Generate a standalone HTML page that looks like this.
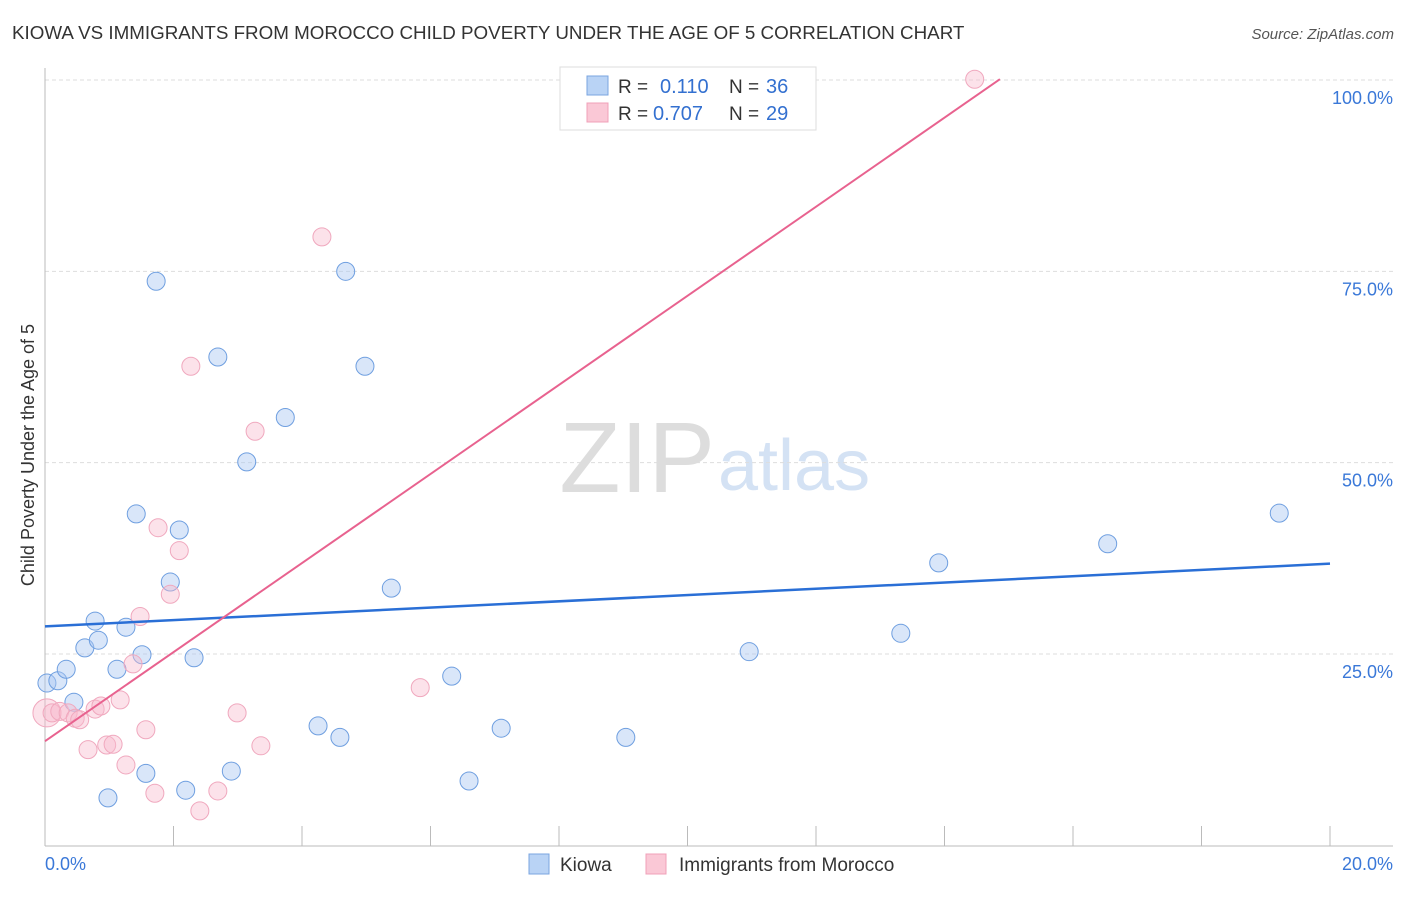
<!DOCTYPE html>
<html><head><meta charset="utf-8"><style>
body{margin:0;background:#fff;font-family:"Liberation Sans",sans-serif}
svg text{font-family:"Liberation Sans",sans-serif}
</style></head><body>
<svg id="c" width="1406" height="892">
<text x="12" y="39" font-size="18.8" fill="#333">KIOWA VS IMMIGRANTS FROM MOROCCO CHILD POVERTY UNDER THE AGE OF 5 CORRELATION CHART</text>
<text x="1394" y="39" font-size="15" fill="#555" font-style="italic" text-anchor="end">Source: ZipAtlas.com</text>
<text x="715" y="492" font-size="100" fill="#ddd" text-anchor="end" font-family="Liberation Serif">ZIP</text>
<text x="718" y="490" font-size="72" fill="#d4e2f4">atlas</text>
<text transform="translate(34,455) rotate(-90)" font-size="18" fill="#333" text-anchor="middle">Child Poverty Under the Age of 5</text>
<g id="grid"></g><g id="pts"></g><g id="lines"></g>
<g>
<rect x="560" y="67" width="256" height="63" fill="#fff" stroke="#ddd"/>
<rect x="587" y="76" width="21" height="19" fill="#b9d3f5" stroke="#7aa5e0"/>
<rect x="587" y="103" width="21" height="19" fill="#fac8d6" stroke="#f0a0b8"/>
<text x="618" y="93" font-size="19" fill="#333">R = </text><text x="660" y="93" font-size="20" fill="#3370d0">0.110</text>
<text x="729" y="93" font-size="19" fill="#333">N = </text><text x="766" y="93" font-size="20" fill="#3370d0">36</text>
<text x="618" y="120" font-size="19" fill="#333">R = </text><text x="653" y="120" font-size="20" fill="#3370d0">0.707</text>
<text x="729" y="120" font-size="19" fill="#333">N = </text><text x="766" y="120" font-size="20" fill="#3370d0">29</text>
</g>
<g>
<rect x="529" y="854" width="20" height="20" fill="#b9d3f5" stroke="#7aa5e0"/>
<text x="560" y="871" font-size="19" fill="#333">Kiowa</text>
<rect x="646" y="854" width="20" height="20" fill="#fac8d6" stroke="#f0a0b8"/>
<text x="679" y="871" font-size="19" fill="#333">Immigrants from Morocco</text>
</g>
</svg>
<script>
const xTicks=[0,2,4,6,8,10,12,14,16,18,20];
const yTicks=[25,50,75,100];
const yTickLabels=["25.0%","50.0%","75.0%","100.0%"];
const xTickLabels=["0.0%","20.0%"];
const kiowaX=[0.03,0.2,0.33,0.45,0.62,0.78,0.83,0.98,1.12,1.26,1.42,1.51,1.57,1.73,1.95,2.09,2.19,2.32,2.69,2.9,3.14,3.74,4.25,4.59,4.68,4.98,5.39,6.33,6.6,7.1,9.04,10.96,13.32,13.91,16.54,19.21];
const kiowaY=[21.2,21.5,23.0,18.7,25.8,29.3,26.8,6.2,23.0,28.5,43.3,24.9,9.4,73.7,34.4,41.2,7.2,24.5,63.8,9.7,50.1,55.9,15.6,14.1,75.0,62.6,33.6,22.1,8.4,15.3,14.1,25.3,27.7,36.9,39.4,43.4];
const moroccoX=[0.03,0.11,0.23,0.36,0.47,0.54,0.67,0.78,0.87,0.96,1.06,1.17,1.26,1.37,1.48,1.57,1.71,1.76,1.95,2.09,2.27,2.41,2.69,2.99,3.27,3.36,4.31,5.84,14.47];
const moroccoY=[17.3,17.3,17.5,17.3,16.6,16.4,12.5,17.8,18.2,13.1,13.2,19.0,10.5,23.7,29.9,15.1,6.8,41.5,32.8,38.5,62.6,4.5,7.1,17.3,54.1,13.0,79.5,20.6,100.1];
const kiowaTrend=[28.6,0.41];
const moroccoTrend=[13.6,5.82];
const X=v=>45+v/20*1285, Y=v=>845.3-v*7.653;
const NS="http://www.w3.org/2000/svg";
function mk(p,t,a){const e=document.createElementNS(NS,t);for(const k in a)e.setAttribute(k,a[k]);p.appendChild(e);return e;}
const g=document.getElementById('grid');
yTicks.forEach((t,i)=>{
 const l=mk(g,'line',{x1:45,x2:1393,y1:Y(t),y2:Y(t),stroke:'#ddd','stroke-dasharray':'4,3'});
 
 
 const tx=mk(g,'text',{x:1393,y:Y(t)+24,'font-size':18,fill:'#3a78d8','text-anchor':'end'});tx.textContent=yTickLabels[i];
 
 
});
mk(g,'line',{x1:45,x2:45,y1:68,y2:846,stroke:'#bbb'});
mk(g,'line',{x1:45,x2:1393,y1:846,y2:846,stroke:'#bbb'});
xTicks.forEach(t=>{const l=mk(g,'line',{x1:X(t),x2:X(t),y1:826,y2:846,stroke:'#bbb'});
 
 });
[[0,'start',45],[20,'end',1393]].forEach((d,i)=>{const tx=mk(g,'text',{x:d[2],y:870,'font-size':18,fill:'#3a78d8','text-anchor':d[1]});tx.textContent=xTickLabels[i];
 
 });
const p=document.getElementById('pts');
kiowaX.forEach((v,i)=>{const c=mk(p,'circle',{cx:X(v),cy:Y(kiowaY[i]),r:9,fill:'rgba(170,200,242,0.45)',stroke:'#6f9fe0','stroke-width':1});
 
 });
moroccoX.forEach((v,i)=>{const c=mk(p,'circle',{cx:X(v),cy:Y(moroccoY[i]),r:i===0?14:9,fill:'rgba(248,185,205,0.42)',stroke:'#f0a8be','stroke-width':1});
 
 });
const L=document.getElementById('lines');
const bl=mk(L,'line',{x1:X(0),y1:Y(kiowaTrend[0]),x2:X(20),y2:Y(kiowaTrend[0]+20*kiowaTrend[1]),stroke:'#2a6fd6','stroke-width':2.5});


const xe=(100.1-moroccoTrend[0])/moroccoTrend[1];
const pl=mk(L,'line',{x1:X(0),y1:Y(moroccoTrend[0]),x2:X(xe),y2:Y(100.1),stroke:'#e8628f','stroke-width':2});


</script>
</body></html>
